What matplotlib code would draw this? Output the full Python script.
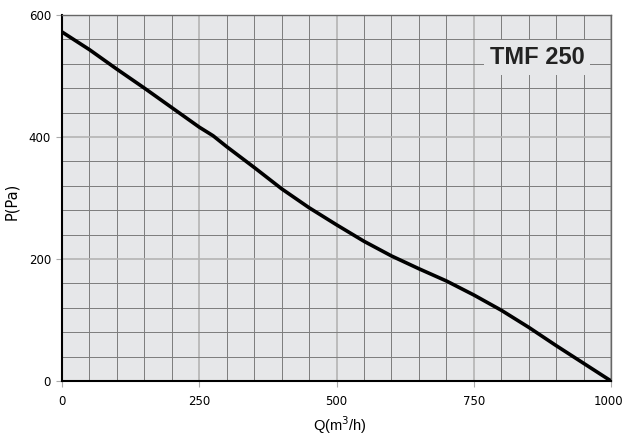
import matplotlib.pyplot as plt
import matplotlib.transforms as mtransforms
from matplotlib.ticker import MultipleLocator

# air flow (m3/h) and static pressure (Pa)
q = [0, 50, 100, 150, 200, 250, 275, 300, 350, 400, 450, 500,
     550, 600, 650, 700, 750, 800, 850, 900, 950, 1000]
p = [572, 543, 511, 480, 448, 416, 402, 384, 350, 315, 284, 256,
     229, 205, 184, 164, 141, 116, 88, 58, 29, 0]

x_ticks = [0, 250, 500, 750, 1000]
y_ticks = [0, 200, 400, 600]
model = "TMF 250"

fig = plt.figure(figsize=(6.24, 4.38), dpi=100)
ax = fig.add_axes([0.0994, 0.130, 0.880, 0.836])
ax.set_facecolor("#e6e7e9")

ax.plot(q, p, color="black", lw=2.6, solid_capstyle="butt", zorder=3)

ax.set_xlim(0, 1000)
ax.set_ylim(0, 600)
ax.set_xticks(x_ticks)
ax.set_yticks(y_ticks)
ax.xaxis.set_minor_locator(MultipleLocator(50))
ax.yaxis.set_minor_locator(MultipleLocator(40))
ax.grid(which="minor", color="#7c7c7c", lw=0.7)
ax.grid(which="major", color="#b4b4b4", lw=1.2)
ax.set_axisbelow(True)

ax.tick_params(which="major", length=4, color="#aaaaaa", labelsize=8.5, pad=4)
ax.tick_params(axis="x", which="major", pad=6)
ax.tick_params(which="minor", length=0)
for s in ["top", "right"]:
    ax.spines[s].set_color("#666666")
    ax.spines[s].set_linewidth(1)
for s in ["left", "bottom"]:
    ax.spines[s].set_color("black")
    ax.spines[s].set_linewidth(1.5)

# keep the last x label inside the canvas
fig.canvas.draw()
last = ax.get_xticklabels()[-1]
last.set_transform(last.get_transform() + mtransforms.ScaledTranslation(-3 / 100, 0, fig.dpi_scale_trans))

fig.text(0.018, 0.54, "P(Pa)", rotation=90, ha="center", va="center", fontsize=10.5)
fig.text(0.545, 0.005, "Q(m$^3$/h)", ha="center", va="bottom", fontsize=10.5,
         family="Liberation Sans")

ax.text(0.952, 0.884, model, transform=ax.transAxes, ha="right", va="center",
        fontsize=17, family="Liberation Sans", weight="bold", color="#222222", zorder=4,
        bbox=dict(facecolor="#e6e7e9", edgecolor="none", pad=4))

fig.savefig("out.png", dpi=100)
